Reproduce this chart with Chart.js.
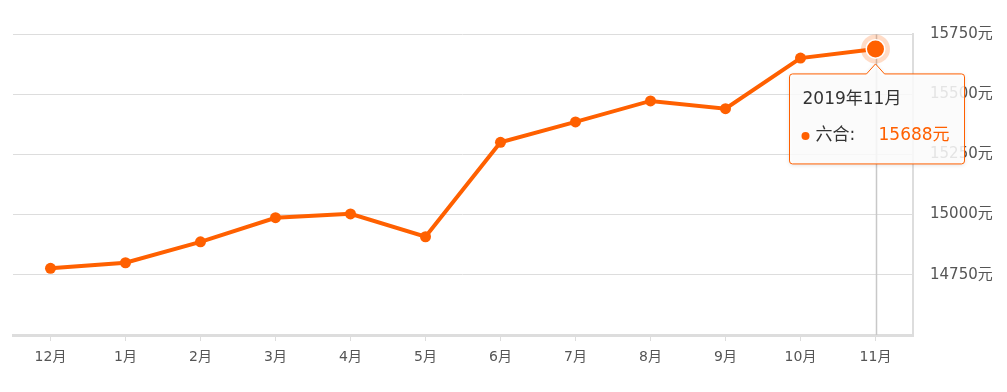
<!DOCTYPE html>
<html>
<head>
<meta charset="utf-8">
<script src="https://cdn.jsdelivr.net/npm/chart.js@4.4.0/dist/chart.umd.min.js"></script>
<style>
html,body{margin:0;padding:0;background:#fff;}
#wrap{width:1007px;height:392px;position:relative;}
</style>
</head>
<body>
<div id="wrap"><canvas id="c" width="1007" height="392"></canvas></div>
<script>
const categories = ['12月','1月','2月','3月','4月','5月','6月','7月','8月','9月','10月','11月'];
const prices = [14777,14800,14887,14987,15003,14908,15300,15385,15472,15440,15650,15688];
const yTickValues = [14750,15000,15250,15500,15750];
const seriesName = '六合';
const unit = '元';
const tooltipTitle = '2019年11月';
const activeIndex = 11;

const ORANGE = '#ff6000';
const FONT = '"DejaVu Sans", "Noto Sans CJK SC", sans-serif';

const hoverDeco = {
  id: 'hoverDeco',
  beforeDatasetsDraw(chart) {
    const ctx = chart.ctx;
    const pt = chart.getDatasetMeta(0).data[activeIndex];
    const a = chart.chartArea;
    ctx.save();
    ctx.strokeStyle = '#c8c8c8';
    ctx.lineWidth = 1.5;
    ctx.beginPath();
    ctx.moveTo(Math.round(pt.x) + 0.5, a.top);
    ctx.lineTo(Math.round(pt.x) + 0.5, a.bottom);
    ctx.stroke();
    ctx.restore();
  },
  afterDatasetsDraw(chart) {
    const ctx = chart.ctx;
    const pt = chart.getDatasetMeta(0).data[activeIndex];
    ctx.save();
    ctx.fillStyle = 'rgba(255,96,0,0.22)';
    ctx.beginPath();
    ctx.arc(pt.x, pt.y, 14.5, 0, Math.PI * 2);
    ctx.fill();
    ctx.fillStyle = '#ffffff';
    ctx.beginPath();
    ctx.arc(pt.x, pt.y, 10, 0, Math.PI * 2);
    ctx.fill();
    ctx.fillStyle = ORANGE;
    ctx.beginPath();
    ctx.arc(pt.x, pt.y, 8.5, 0, Math.PI * 2);
    ctx.fill();
    ctx.restore();
  },
  afterDraw(chart) {
    const ctx = chart.ctx;
    const pt = chart.getDatasetMeta(0).data[activeIndex];
    const cx = pt.x;
    const tipY = pt.y + 15;
    const bw = 175, bh = 90;
    const bx = cx - 86, by = tipY + 10;
    const r = 3, cw = 9;
    ctx.save();
    ctx.shadowColor = 'rgba(0,0,0,0.15)';
    ctx.shadowBlur = 4;
    ctx.shadowOffsetY = 1;
    ctx.beginPath();
    ctx.moveTo(bx + r, by);
    ctx.lineTo(cx - cw, by);
    ctx.lineTo(cx, tipY);
    ctx.lineTo(cx + cw, by);
    ctx.lineTo(bx + bw - r, by);
    ctx.arcTo(bx + bw, by, bx + bw, by + r, r);
    ctx.lineTo(bx + bw, by + bh - r);
    ctx.arcTo(bx + bw, by + bh, bx + bw - r, by + bh, r);
    ctx.lineTo(bx + r, by + bh);
    ctx.arcTo(bx, by + bh, bx, by + bh - r, r);
    ctx.lineTo(bx, by + r);
    ctx.arcTo(bx, by, bx + r, by, r);
    ctx.closePath();
    ctx.fillStyle = 'rgba(255,255,255,0.85)';
    ctx.fill();
    ctx.shadowColor = 'transparent';
    ctx.strokeStyle = ORANGE;
    ctx.lineWidth = 1;
    ctx.stroke();

    ctx.textBaseline = 'middle';
    ctx.textAlign = 'left';
    ctx.font = '17px ' + FONT;
    ctx.fillStyle = '#333';
    ctx.fillText(tooltipTitle, bx + 13, by + 26);

    const ly = by + 62;
    ctx.fillStyle = ORANGE;
    ctx.beginPath();
    ctx.arc(bx + 16, ly, 4, 0, Math.PI * 2);
    ctx.fill();
    ctx.fillStyle = '#333';
    ctx.fillText(seriesName + ':', bx + 26, ly);
    ctx.fillStyle = ORANGE;
    ctx.fillText(prices[activeIndex] + unit, bx + 89, ly);
    ctx.restore();
  }
};

new Chart(document.getElementById('c'), {
  type: 'line',
  data: {
    labels: categories,
    datasets: [{
      label: seriesName,
      data: prices,
      borderColor: ORANGE,
      backgroundColor: ORANGE,
      borderWidth: 4,
      pointRadius: (c) => c.dataIndex === activeIndex ? 0 : 5.5,
      pointBackgroundColor: ORANGE,
      pointBorderWidth: 0,
      tension: 0,
      fill: false
    }]
  },
  options: {
    responsive: false,
    animation: false,
    events: [],
    layout: { padding: { left: 13, top: 34, right: 0, bottom: 0 } },
    plugins: { legend: { display: false }, tooltip: { enabled: false } },
    scales: {
      x: {
        offset: true,
        grid: { display: true, drawOnChartArea: false, drawTicks: true, tickLength: 6, color: '#dddddd', offset: false },
        border: { display: true, color: '#dddddd', width: 3 },
        ticks: { color: '#555', font: { size: 14, family: FONT }, padding: 8, maxRotation: 0, autoSkip: false },
        afterFit(s) { s.height = 57; }
      },
      y: {
        position: 'right',
        min: 14500,
        max: 15750,
        afterBuildTicks(s) { s.ticks = [14500].concat(yTickValues).map(v => ({ value: v })); },
        grid: { color: '#dddddd', drawTicks: false, lineWidth: 1 },
        border: { display: true, color: '#dddddd', width: 2 },
        ticks: {
          color: '#555',
          font: { size: 15, family: FONT },
          padding: 17,
          callback: (v) => v === 14500 ? '' : v + unit
        },
        afterFit(s) { s.width = 94; }
      }
    }
  },
  plugins: [hoverDeco]
});
</script>
</body>
</html>
